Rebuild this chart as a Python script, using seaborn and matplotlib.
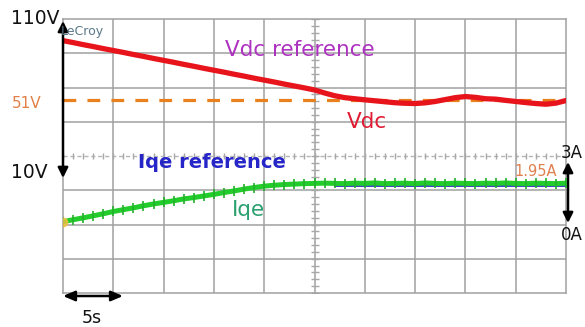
import numpy as np
import pandas as pd
import matplotlib
matplotlib.use("Agg")
import matplotlib.pyplot as plt
import seaborn as sns

# ---- data ----
time_s = list(range(0, 51))
vdc = [94.2, 92.8, 91.3, 89.9, 88.4, 87.0, 85.6, 84.1, 82.7, 81.2,
       79.8, 78.4, 76.9, 75.5, 74.0, 72.6, 71.2, 69.7, 68.3, 66.8,
       65.4, 64.0, 62.5, 61.1, 59.7, 58.2, 56.0, 54.0, 52.6, 51.8,
       51.0, 50.3, 49.6, 48.9, 48.5, 48.3, 48.8, 49.8, 51.2, 52.6,
       53.4, 52.8, 51.8, 51.5, 50.6, 49.8, 49.0, 48.3, 47.8, 48.6, 50.5]
iqe = [0.12, 0.21, 0.29, 0.38, 0.47, 0.57, 0.65, 0.73, 0.82, 0.90,
       0.97, 1.04, 1.12, 1.18, 1.25, 1.32, 1.40, 1.47, 1.55, 1.62,
       1.68, 1.72, 1.75, 1.77, 1.79, 1.80, 1.81, 1.80, 1.79, 1.81,
       1.80, 1.82, 1.79, 1.80, 1.81, 1.79, 1.82, 1.80, 1.79, 1.81,
       1.80, 1.79, 1.81, 1.80, 1.82, 1.80, 1.79, 1.81, 1.80, 1.79, 1.81]
vdc_ref_t = [0, 50]
vdc_ref = [51, 51]
iqe_ref_t = [27, 50]
iqe_ref = [1.68, 1.68]

W, H = 585, 327
sns.set_style("white")
plt.rcParams['font.family'] = ['DejaVu Sans']
fig = plt.figure(figsize=(W / 100, H / 100), dpi=100)
fig.patch.set_facecolor("white")

L, R, T, B = 63, 566, 19, 293
ax = fig.add_axes([L / W, 1 - B / H, (R - L) / W, (B - T) / H])
ax.set_xlim(0, 50)
ax.set_ylim(-90, 110)
ax2 = ax.twinx()
ax2.set_ylim(-3, 9)
ax2.set_xlim(0, 50)

grid_c = "#a0a0a0"
for x in np.arange(5, 50, 5):
    if x != 25:
        ax.axvline(x, color=grid_c, lw=1.1, zorder=0)
for y in np.arange(-65, 110, 25):
    if y != 10:
        ax.axhline(y, color=grid_c, lw=1.1, zorder=0)
# centre lines with minor ticks
ax.axhline(10, color="#b5b5b5", lw=1.0, ls=(0, (3, 2)), zorder=0)
ax.axvline(25, color=grid_c, lw=1.1, zorder=0)
ax.plot(np.arange(0, 50.1, 1), np.full(51, 10), ls="none", marker="|",
        ms=5, mew=1.0, color="#a8a8a8", zorder=0)
ax.plot(np.full(41, 25), np.arange(-90, 110.1, 5), ls="none", marker="_",
        ms=6, mew=1.0, color="#a8a8a8", zorder=0)
for s in ax.spines.values():
    s.set_color(grid_c)
    s.set_linewidth(1.1)
for s in ax2.spines.values():
    s.set_visible(False)
ax.set_xticks([]); ax.set_yticks([]); ax2.set_yticks([])

# traces
ax.plot(vdc_ref_t, vdc_ref, color="#e8801e", lw=2.3, ls=(0, (4, 3.5)), zorder=2)
sns.lineplot(x=time_s, y=vdc, ax=ax, color="#e8141c", lw=3.8, zorder=3)
ax2.plot(iqe_ref_t, iqe_ref, color="#3030c0", lw=1.3, zorder=2)
sns.lineplot(x=time_s, y=iqe, ax=ax2, color="#22cc2a", lw=3.6, zorder=3,
             marker="|", markersize=7, markeredgewidth=1.2,
             markeredgecolor="#22b02a")
ax2.plot([0], [iqe[0]], marker="o", ms=6, color="#f5c040", alpha=0.8, zorder=4)


def P(x, y):
    return (x / W, 1 - y / H)


def txt(x, y, s, **kw):
    fig.text(*P(x, y), s, **kw)


txt(11, 18, "110V", fontsize=13.5, color="#111111", va="center", ha="left")
txt(12, 103, "51V", fontsize=11, color="#e08048", va="center", ha="left")
txt(11, 173, "10V", fontsize=13.5, color="#111111", va="center", ha="left")
txt(61, 31, "LeCroy", fontsize=9, color="#5a7888", va="center", ha="left")
txt(300, 50, "Vdc reference", fontsize=15.5, color="#ae32c0", va="center", ha="center")
txt(367, 122, "Vdc", fontsize=15.5, color="#e01c34", va="center", ha="center")
txt(212, 162, "Iqe reference", fontsize=14, color="#2626c8", va="center", ha="center",
    fontweight="bold")
txt(248, 210, "Iqe", fontsize=15.5, color="#2aa070", va="center", ha="center")
txt(583, 153, "3A", fontsize=12, color="#111111", va="center", ha="right")
txt(536, 172, "1.95A", fontsize=10.5, color="#e08050", va="center", ha="center")
txt(583, 235, "0A", fontsize=12, color="#111111", va="center", ha="right")
txt(92, 318, "5s", fontsize=12.5, color="#111111", va="center", ha="center")


def arrow(x0, y0, x1, y1, style):
    ax.annotate("", xy=P(x1, y1), xytext=P(x0, y0), xycoords="figure fraction",
                textcoords="figure fraction", annotation_clip=False,
                arrowprops=dict(arrowstyle=style, color="black", lw=1.8,
                                shrinkA=0, shrinkB=0), zorder=6)


arrow(63, 100, 63, 21, "-|>,head_length=0.6,head_width=0.3")
arrow(63, 100, 63, 178, "-|>,head_length=0.6,head_width=0.3")
arrow(568, 190, 568, 162, "-|>,head_length=0.6,head_width=0.3")
arrow(568, 190, 568, 223, "-|>,head_length=0.6,head_width=0.3")
arrow(63, 296, 123, 296, "<|-|>,head_length=0.7,head_width=0.3")

fig.savefig("out.png", dpi=100, facecolor="white")
